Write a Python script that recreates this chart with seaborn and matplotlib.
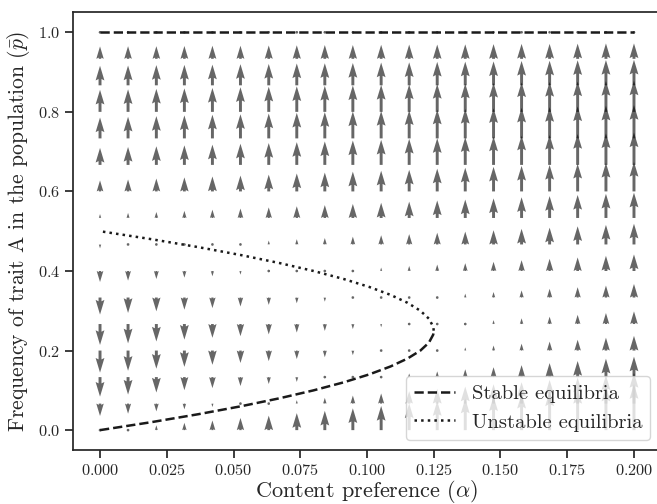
import numpy as np
import matplotlib
matplotlib.use("Agg")
import matplotlib.pyplot as plt
import seaborn as sns

# grid of content preference (alpha) and trait frequency (p)
alpha_grid = [0.0, 0.0105, 0.0211, 0.0316, 0.0421, 0.0526, 0.0632, 0.0737, 0.0842, 0.0947,
              0.1053, 0.1158, 0.1263, 0.1368, 0.1474, 0.1579, 0.1684, 0.1789, 0.1895, 0.2]
p_grid = [0.0, 0.0667, 0.1333, 0.2, 0.2667, 0.3333, 0.4, 0.4667,
          0.5333, 0.6, 0.6667, 0.7333, 0.8, 0.8667, 0.9333, 1.0]

# change in p at each grid point (rows follow p_grid, columns follow alpha_grid)
dp = [
    [0.000, 0.011, 0.021, 0.032, 0.042, 0.053, 0.063, 0.074, 0.084, 0.095, 0.105, 0.116, 0.126, 0.137, 0.147, 0.158, 0.168, 0.179, 0.189, 0.200],
    [-0.054, -0.044, -0.034, -0.025, -0.015, -0.005, 0.005, 0.015, 0.025, 0.035, 0.044, 0.054, 0.064, 0.074, 0.084, 0.093, 0.103, 0.113, 0.123, 0.133],
    [-0.085, -0.076, -0.067, -0.057, -0.048, -0.039, -0.030, -0.021, -0.012, -0.003, 0.007, 0.016, 0.025, 0.034, 0.043, 0.052, 0.061, 0.070, 0.080, 0.089],
    [-0.096, -0.088, -0.079, -0.071, -0.062, -0.054, -0.046, -0.037, -0.029, -0.020, -0.012, -0.003, 0.005, 0.014, 0.022, 0.030, 0.039, 0.047, 0.056, 0.064],
    [-0.091, -0.084, -0.076, -0.068, -0.060, -0.053, -0.045, -0.037, -0.030, -0.022, -0.014, -0.006, 0.001, 0.009, 0.017, 0.025, 0.032, 0.040, 0.048, 0.055],
    [-0.074, -0.067, -0.060, -0.053, -0.046, -0.039, -0.032, -0.025, -0.018, -0.011, -0.004, 0.003, 0.010, 0.017, 0.024, 0.031, 0.038, 0.045, 0.052, 0.059],
    [-0.048, -0.042, -0.035, -0.029, -0.023, -0.016, -0.010, -0.004, 0.003, 0.009, 0.015, 0.022, 0.028, 0.034, 0.040, 0.047, 0.053, 0.059, 0.066, 0.072],
    [-0.017, -0.011, -0.005, 0.000, 0.006, 0.012, 0.017, 0.023, 0.028, 0.034, 0.040, 0.045, 0.051, 0.056, 0.062, 0.068, 0.073, 0.079, 0.085, 0.090],
    [0.017, 0.022, 0.026, 0.031, 0.036, 0.041, 0.046, 0.051, 0.056, 0.061, 0.066, 0.071, 0.076, 0.080, 0.085, 0.090, 0.095, 0.100, 0.105, 0.110],
    [0.048, 0.052, 0.056, 0.061, 0.065, 0.069, 0.073, 0.078, 0.082, 0.086, 0.090, 0.094, 0.099, 0.103, 0.107, 0.111, 0.115, 0.120, 0.124, 0.128],
    [0.074, 0.078, 0.081, 0.085, 0.088, 0.092, 0.095, 0.099, 0.102, 0.106, 0.109, 0.113, 0.116, 0.120, 0.123, 0.127, 0.130, 0.134, 0.137, 0.141],
    [0.091, 0.094, 0.097, 0.100, 0.103, 0.105, 0.108, 0.111, 0.114, 0.117, 0.119, 0.122, 0.125, 0.128, 0.131, 0.133, 0.136, 0.139, 0.142, 0.145],
    [0.096, 0.098, 0.100, 0.102, 0.104, 0.107, 0.109, 0.111, 0.113, 0.115, 0.117, 0.119, 0.121, 0.123, 0.126, 0.128, 0.130, 0.132, 0.134, 0.136],
    [0.085, 0.086, 0.088, 0.089, 0.090, 0.092, 0.093, 0.095, 0.096, 0.097, 0.099, 0.100, 0.102, 0.103, 0.104, 0.106, 0.107, 0.109, 0.110, 0.111],
    [0.054, 0.055, 0.055, 0.056, 0.057, 0.057, 0.058, 0.059, 0.060, 0.060, 0.061, 0.062, 0.062, 0.063, 0.064, 0.065, 0.065, 0.066, 0.067, 0.067],
    [0.0] * 20,
]

# equilibrium curves
stable_top_alpha = [0.0, 0.2]
stable_top_p = [1.0, 1.0]
stable_low_alpha = [0.0, 0.0192, 0.0368, 0.0528, 0.0672, 0.08, 0.0912, 0.1008,
                    0.1088, 0.1152, 0.12, 0.1232, 0.1248, 0.125]
stable_low_p = [0.0, 0.02, 0.04, 0.06, 0.08, 0.10, 0.12, 0.14,
                0.16, 0.18, 0.20, 0.22, 0.24, 0.25]
unstable_alpha = [0.125, 0.1248, 0.1232, 0.12, 0.1152, 0.1088, 0.1008, 0.0912,
                  0.08, 0.0672, 0.0528, 0.0368, 0.0192, 0.0]
unstable_p = [0.25, 0.26, 0.28, 0.30, 0.32, 0.34, 0.36, 0.38,
              0.40, 0.42, 0.44, 0.46, 0.48, 0.50]

sns.set_theme(style="ticks")
plt.rcParams["font.family"] = "serif"
plt.rcParams["font.serif"] = ["cmr10", "DejaVu Serif"]
plt.rcParams["mathtext.fontset"] = "cm"
plt.rcParams["axes.formatter.use_mathtext"] = True

fig = plt.figure(figsize=(6.57, 5.04), dpi=100)
ax = fig.add_axes([0.1116, 0.1071, 0.894, 0.8683])

A, P = np.meshgrid(alpha_grid, p_grid)
V = np.array(dp)
U = np.zeros_like(V)
ax.quiver(A, P, U, V, pivot="tail", color="black", alpha=0.6, width=0.005,
          angles="xy", scale_units="xy", scale=1.73)

ax.plot(stable_top_alpha, stable_top_p, "k--", lw=1.8, label="Stable equilibria")
ax.plot(stable_low_alpha, stable_low_p, "k--", lw=1.8)
ax.plot(unstable_alpha, unstable_p, "k:", lw=1.8, label="Unstable equilibria")

ax.set_xlim(-0.01, 0.21)
ax.set_ylim(-0.05, 1.05)
ax.set_xticks(np.arange(0, 0.2001, 0.025))
ax.set_yticks(np.arange(0, 1.001, 0.2))
ax.tick_params(labelsize=11.7)
ax.set_xlabel(r"Content preference ($\alpha$)", fontsize=16, labelpad=0)
ax.set_ylabel(r"Frequency of trait A in the population ($\bar{p}$)", fontsize=15.6)
ax.legend(loc="lower right", fontsize=14.8)

fig.savefig("out.png", dpi=100)
